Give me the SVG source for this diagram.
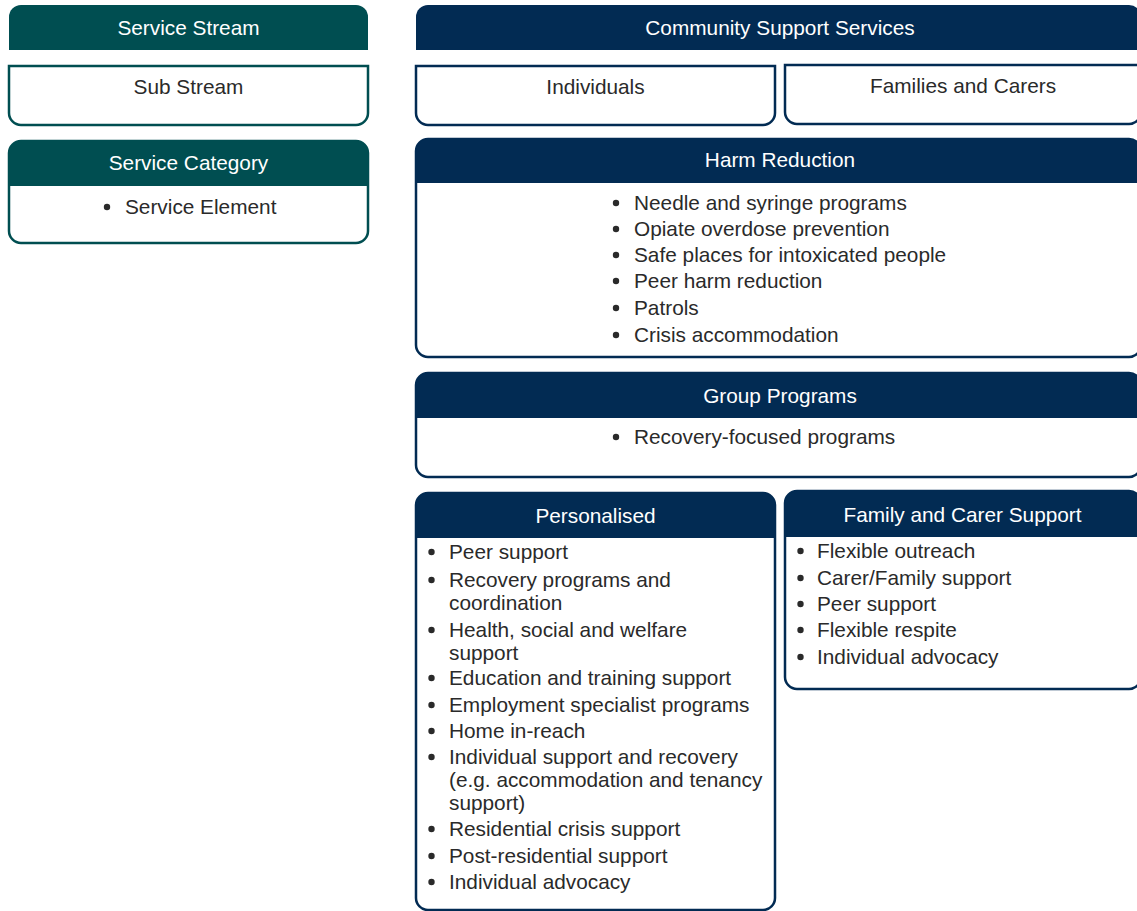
<svg xmlns="http://www.w3.org/2000/svg" width="1137" height="911" viewBox="0 0 1137 911">
<style>
text{font-family:"Liberation Sans",Arial,Helvetica,sans-serif;font-size:20.8px;fill:#2a2a2a}
.h{fill:#ffffff;text-anchor:middle}
.c{text-anchor:middle}
.dot{fill:#2a2a2a}
.tealF{fill:#004e51}
.tealS{fill:#ffffff;stroke:#004e51;stroke-width:2.5}
.navyF{fill:#022b53}
.navyS{fill:#ffffff;stroke:#022b53;stroke-width:2.5}
</style>
<rect width="1137" height="911" fill="#ffffff"/>
<g id="legend-service-stream">
<path class="tealF" d="M9,50 V17 A12,12 0 0 1 21,5 H356 A12,12 0 0 1 368,17 V50 Z"/>
<text class="h" x="188.5" y="35">Service Stream</text>
</g>
<g id="legend-sub-stream">
<path class="tealS" d="M9,66 H368 V113 A12,12 0 0 1 356,125 H21 A12,12 0 0 1 9,113 Z"/>
<text class="c" x="188.5" y="94">Sub Stream</text>
</g>
<g id="legend-service-category">
<path class="tealS" d="M9,153 A12,12 0 0 1 21,141 H356 A12,12 0 0 1 368,153 V231 A12,12 0 0 1 356,243 H21 A12,12 0 0 1 9,231 Z"/>
<path class="tealF" d="M9,186 V153 A12,12 0 0 1 21,141 H356 A12,12 0 0 1 368,153 V186 Z"/>
<text class="h" x="188.5" y="170">Service Category</text>
<circle class="dot" cx="107" cy="207" r="3.2"/>
<text x="125" y="214">Service Element</text>
</g>
<g id="community-support-services">
<path class="navyF" d="M416,50 V17 A12,12 0 0 1 428,5 H1129 A12,12 0 0 1 1141,17 V50 Z"/>
<text class="h" x="780" y="35">Community Support Services</text>
</g>
<g id="individuals">
<path class="navyS" d="M416,66 H775 V113 A12,12 0 0 1 763,125 H428 A12,12 0 0 1 416,113 Z"/>
<text class="c" x="595.5" y="94">Individuals</text>
</g>
<g id="families-and-carers">
<path class="navyS" d="M785,65 H1141 V112 A12,12 0 0 1 1129,124 H797 A12,12 0 0 1 785,112 Z"/>
<text class="c" x="963" y="93">Families and Carers</text>
</g>
<g id="harm-reduction">
<path class="navyS" d="M416,151 A12,12 0 0 1 428,139 H1129 A12,12 0 0 1 1141,151 V345 A12,12 0 0 1 1129,357 H428 A12,12 0 0 1 416,345 Z"/>
<path class="navyF" d="M416,183 V151 A12,12 0 0 1 428,139 H1129 A12,12 0 0 1 1141,151 V183 Z"/>
<text class="h" x="780" y="167">Harm Reduction</text>
<circle class="dot" cx="616" cy="203" r="3.2"/><text x="634" y="210">Needle and syringe programs</text>
<circle class="dot" cx="616" cy="229" r="3.2"/><text x="634" y="236">Opiate overdose prevention</text>
<circle class="dot" cx="616" cy="255" r="3.2"/><text x="634" y="262">Safe places for intoxicated people</text>
<circle class="dot" cx="616" cy="281" r="3.2"/><text x="634" y="288">Peer harm reduction</text>
<circle class="dot" cx="616" cy="308" r="3.2"/><text x="634" y="315">Patrols</text>
<circle class="dot" cx="616" cy="335" r="3.2"/><text x="634" y="342">Crisis accommodation</text>
</g>
<g id="group-programs">
<path class="navyS" d="M416,385 A12,12 0 0 1 428,373 H1129 A12,12 0 0 1 1141,385 V465 A12,12 0 0 1 1129,477 H428 A12,12 0 0 1 416,465 Z"/>
<path class="navyF" d="M416,418 V385 A12,12 0 0 1 428,373 H1129 A12,12 0 0 1 1141,385 V418 Z"/>
<text class="h" x="780" y="403">Group Programs</text>
<circle class="dot" cx="616" cy="437" r="3.2"/><text x="634" y="444">Recovery-focused programs</text>
</g>
<g id="personalised">
<path class="navyS" d="M416,505 A12,12 0 0 1 428,493 H763 A12,12 0 0 1 775,505 V898 A12,12 0 0 1 763,910 H428 A12,12 0 0 1 416,898 Z"/>
<path class="navyF" d="M416,538 V505 A12,12 0 0 1 428,493 H763 A12,12 0 0 1 775,505 V538 Z"/>
<text class="h" x="595.5" y="523">Personalised</text>
<circle class="dot" cx="431.5" cy="552" r="3.2"/><text x="449" y="559">Peer support</text>
<circle class="dot" cx="431.5" cy="580" r="3.2"/><text x="449" y="587">Recovery programs and</text>
<text x="449" y="610">coordination</text>
<circle class="dot" cx="431.5" cy="630" r="3.2"/><text x="449" y="637">Health, social and welfare</text>
<text x="449" y="660">support</text>
<circle class="dot" cx="431.5" cy="678" r="3.2"/><text x="449" y="685">Education and training support</text>
<circle class="dot" cx="431.5" cy="705" r="3.2"/><text x="449" y="712">Employment specialist programs</text>
<circle class="dot" cx="431.5" cy="731" r="3.2"/><text x="449" y="738">Home in-reach</text>
<circle class="dot" cx="431.5" cy="757" r="3.2"/><text x="449" y="764">Individual support and recovery</text>
<text x="449" y="787">(e.g. accommodation and tenancy</text>
<text x="449" y="810">support)</text>
<circle class="dot" cx="431.5" cy="829" r="3.2"/><text x="449" y="836">Residential crisis support</text>
<circle class="dot" cx="431.5" cy="856" r="3.2"/><text x="449" y="863">Post-residential support</text>
<circle class="dot" cx="431.5" cy="882" r="3.2"/><text x="449" y="889">Individual advocacy</text>
</g>
<g id="family-and-carer-support">
<path class="navyS" d="M785,503 A12,12 0 0 1 797,491 H1129 A12,12 0 0 1 1141,503 V677 A12,12 0 0 1 1129,689 H797 A12,12 0 0 1 785,677 Z"/>
<path class="navyF" d="M785,537 V503 A12,12 0 0 1 797,491 H1129 A12,12 0 0 1 1141,503 V537 Z"/>
<text class="h" x="962.5" y="522">Family and Carer Support</text>
<circle class="dot" cx="800.5" cy="551" r="3.2"/><text x="817" y="558">Flexible outreach</text>
<circle class="dot" cx="800.5" cy="578" r="3.2"/><text x="817" y="585">Carer/Family support</text>
<circle class="dot" cx="800.5" cy="604" r="3.2"/><text x="817" y="611">Peer support</text>
<circle class="dot" cx="800.5" cy="630" r="3.2"/><text x="817" y="637">Flexible respite</text>
<circle class="dot" cx="800.5" cy="657" r="3.2"/><text x="817" y="664">Individual advocacy</text>
</g>
<g id="connectors"/>
</svg>
